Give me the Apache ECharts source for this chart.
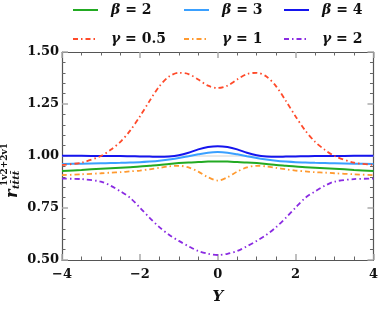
<!DOCTYPE html>
<html>
<head>
<meta charset="utf-8">
<script src="https://cdn.jsdelivr.net/npm/echarts@6/dist/echarts.min.js"></script>
<style>
html,body{margin:0;padding:0;background:#fff;}
#chart{width:381px;height:314px;}
</style>
</head>
<body>
<div id="chart"></div>
<script>
// ---- data ----
var X = [-4,-3.5,-3,-2.75,-2.5,-2.25,-2,-1.75,-1.5,-1.25,-1,-0.75,-0.5,-0.25,0,0.25,0.5,0.75,1,1.25,1.5,1.75,2,2.25,2.5,2.75,3,3.5,4];
var beta2 = [0.928,0.933,0.939,0.9415,0.944,0.9465,0.949,0.953,0.957,0.962,0.966,0.969,0.971,0.973,0.974,0.973,0.971,0.969,0.966,0.962,0.957,0.953,0.949,0.9465,0.944,0.9415,0.939,0.933,0.928];
var beta3 = [0.962,0.963,0.965,0.966,0.967,0.9685,0.970,0.973,0.977,0.983,0.990,0.999,1.008,1.016,1.019,1.016,1.008,0.999,0.990,0.983,0.977,0.973,0.970,0.9685,0.967,0.966,0.965,0.963,0.962];
var beta4 = [1.001,1.001,1.000,1.000,1.000,0.999,0.998,0.997,0.996,0.998,1.004,1.016,1.032,1.043,1.047,1.043,1.032,1.016,1.004,0.998,0.996,0.997,0.998,0.999,1.000,1.000,1.000,1.001,1.001];
var gamma05 = [0.957,0.968,1.000,1.030,1.068,1.122,1.190,1.265,1.335,1.382,1.400,1.394,1.368,1.338,1.327,1.338,1.368,1.394,1.400,1.382,1.335,1.265,1.190,1.122,1.068,1.030,1.000,0.968,0.957];
var gamma1 = [0.908,0.912,0.917,0.920,0.922,0.926,0.930,0.936,0.943,0.950,0.953,0.945,0.925,0.898,0.882,0.898,0.925,0.945,0.953,0.950,0.943,0.936,0.930,0.926,0.922,0.920,0.917,0.912,0.908];
var gamma2 = [0.891,0.889,0.877,0.857,0.830,0.799,0.752,0.703,0.658,0.621,0.592,0.566,0.543,0.530,0.524,0.530,0.543,0.566,0.592,0.621,0.658,0.703,0.752,0.799,0.830,0.857,0.877,0.889,0.891];
var seriesNames = ['β = 2','β = 3','β = 4','γ = 0.5','γ = 1','γ = 2'];
var seriesColors = ['#22aa22','#3aa0ff','#1515ee','#ff4a2a','#ff9a30','#8a2be2'];
var seriesValues = [beta2,beta3,beta4,gamma05,gamma1,gamma2];
var xTicks = [-4,-2,0,2,4];
var yTicks = [0.50,0.75,1.00,1.25,1.50];

// ---- chart ----
var FONT = 'DejaVu Serif';
function pairs(vals){ return X.map(function(x,i){ return [x, vals[i]]; }); }
var dashDot = [5,3,1.5,3];
var series = seriesNames.map(function(n,i){
  var s = {
    name: n, type: 'line', data: pairs(seriesValues[i]), symbol: 'none', smooth: 0.3,
    lineStyle: {color: seriesColors[i], width: i < 3 ? 2 : 1.8, type: i < 3 ? 'solid' : dashDot},
    itemStyle: {color: seriesColors[i]}, z: 3
  };
  if (i === 0) {
    s.markLine = {silent: true, symbol: ['none','none'], label: {show: false},
      lineStyle: {color: '#e2e2e2', width: 1.5, type: 'solid'}, data: [{yAxis: 1}], z: 1};
  }
  return s;
});
var legendPos = [[72,3],[183,3],[283,3],[72,32],[183,32],[283,32]];
var legends = seriesNames.map(function(n,i){
  return {
    data: [n], left: legendPos[i][0], top: legendPos[i][1], padding: 0,
    itemWidth: 25, itemHeight: 14, selectedMode: false,
    itemStyle: {color: 'transparent', borderWidth: 0, opacity: 0},
    formatter: function(name){ var p = name.split(' = '); return '{i|' + p[0] + '}{n| = ' + p[1] + '}'; },
    textStyle: {padding: [0,0,0,8], rich: {
      i: {fontFamily: FONT, fontStyle: 'italic', fontWeight: 'bold', fontSize: 14, color: '#111'},
      n: {fontFamily: FONT, fontWeight: 'bold', fontSize: 14, color: '#111'}
    }}
  };
});
function fmtX(v){ return (v < 0 ? '\u2212' : '') + Math.abs(v); }
function fmtY(v){ return v.toFixed(2); }
var tickStyle = {show: true, inside: true, length: 6, lineStyle: {color: '#aaa', width: 1.5}};
var minorStyle = {show: true, length: 3.5, lineStyle: {color: '#666', width: 1}};
var lineStyle = {show: true, onZero: false, lineStyle: {color: '#555', width: 1.2}};
var labelFont = {fontFamily: FONT, fontWeight: 'bold', fontSize: 13, color: '#111'};
var option = {
  animation: false,
  backgroundColor: '#fff',
  grid: {left: 62, right: 7, top: 52, bottom: 54, containLabel: false},
  legend: legends,
  xAxis: [{
    type: 'value', min: -4, max: 4, interval: 2, position: 'bottom',
    axisLine: lineStyle, axisTick: tickStyle, minorTick: Object.assign({splitNumber: 4}, minorStyle),
    splitLine: {show: false},
    axisLabel: Object.assign({margin: 8, formatter: fmtX, customValues: xTicks}, labelFont),
    name: 'Y', nameLocation: 'middle', nameGap: 30,
    nameTextStyle: {fontFamily: FONT, fontWeight: 'bold', fontStyle: 'italic', fontSize: 15, color: '#111'}
  },{
    type: 'value', min: -4, max: 4, interval: 2, position: 'top',
    axisLine: lineStyle, axisTick: tickStyle, minorTick: Object.assign({splitNumber: 4}, minorStyle),
    splitLine: {show: false}, axisLabel: {show: false}
  }],
  yAxis: [{
    type: 'value', min: 0.5, max: 1.5, interval: 0.25, position: 'left',
    axisLine: lineStyle, axisTick: tickStyle, minorTick: Object.assign({splitNumber: 5}, minorStyle),
    splitLine: {show: false},
    axisLabel: Object.assign({margin: 3, formatter: fmtY, customValues: yTicks}, labelFont)
  },{
    type: 'value', min: 0.5, max: 1.5, interval: 0.25, position: 'right',
    axisLine: lineStyle, axisTick: tickStyle, minorTick: Object.assign({splitNumber: 5}, minorStyle),
    splitLine: {show: false}, axisLabel: {show: false}
  }],
  graphic: [
    {type: 'text', x: 13, y: 198, rotation: Math.PI/2,
     style: {text: 'r', fontFamily: FONT, fontWeight: 'bold', fontStyle: 'italic', fontSize: 16, fill: '#111', align: 'left', verticalAlign: 'middle'}},
    {type: 'text', x: 16, y: 189, rotation: Math.PI/2,
     style: {text: 'tt\u0304tt\u0304', fontFamily: FONT, fontWeight: 'bold', fontStyle: 'italic', fontSize: 10, fill: '#111', align: 'left', verticalAlign: 'middle'}},
    {type: 'text', x: 5, y: 186, rotation: Math.PI/2,
     style: {text: '1v2+2v1', fontFamily: FONT, fontWeight: 'bold', fontSize: 9, fill: '#111', align: 'left', verticalAlign: 'middle'}}
  ],
  series: series
};
var chart = echarts.init(document.getElementById('chart'), null, {renderer: 'canvas'});
chart.setOption(option);
</script>
</body>
</html>
